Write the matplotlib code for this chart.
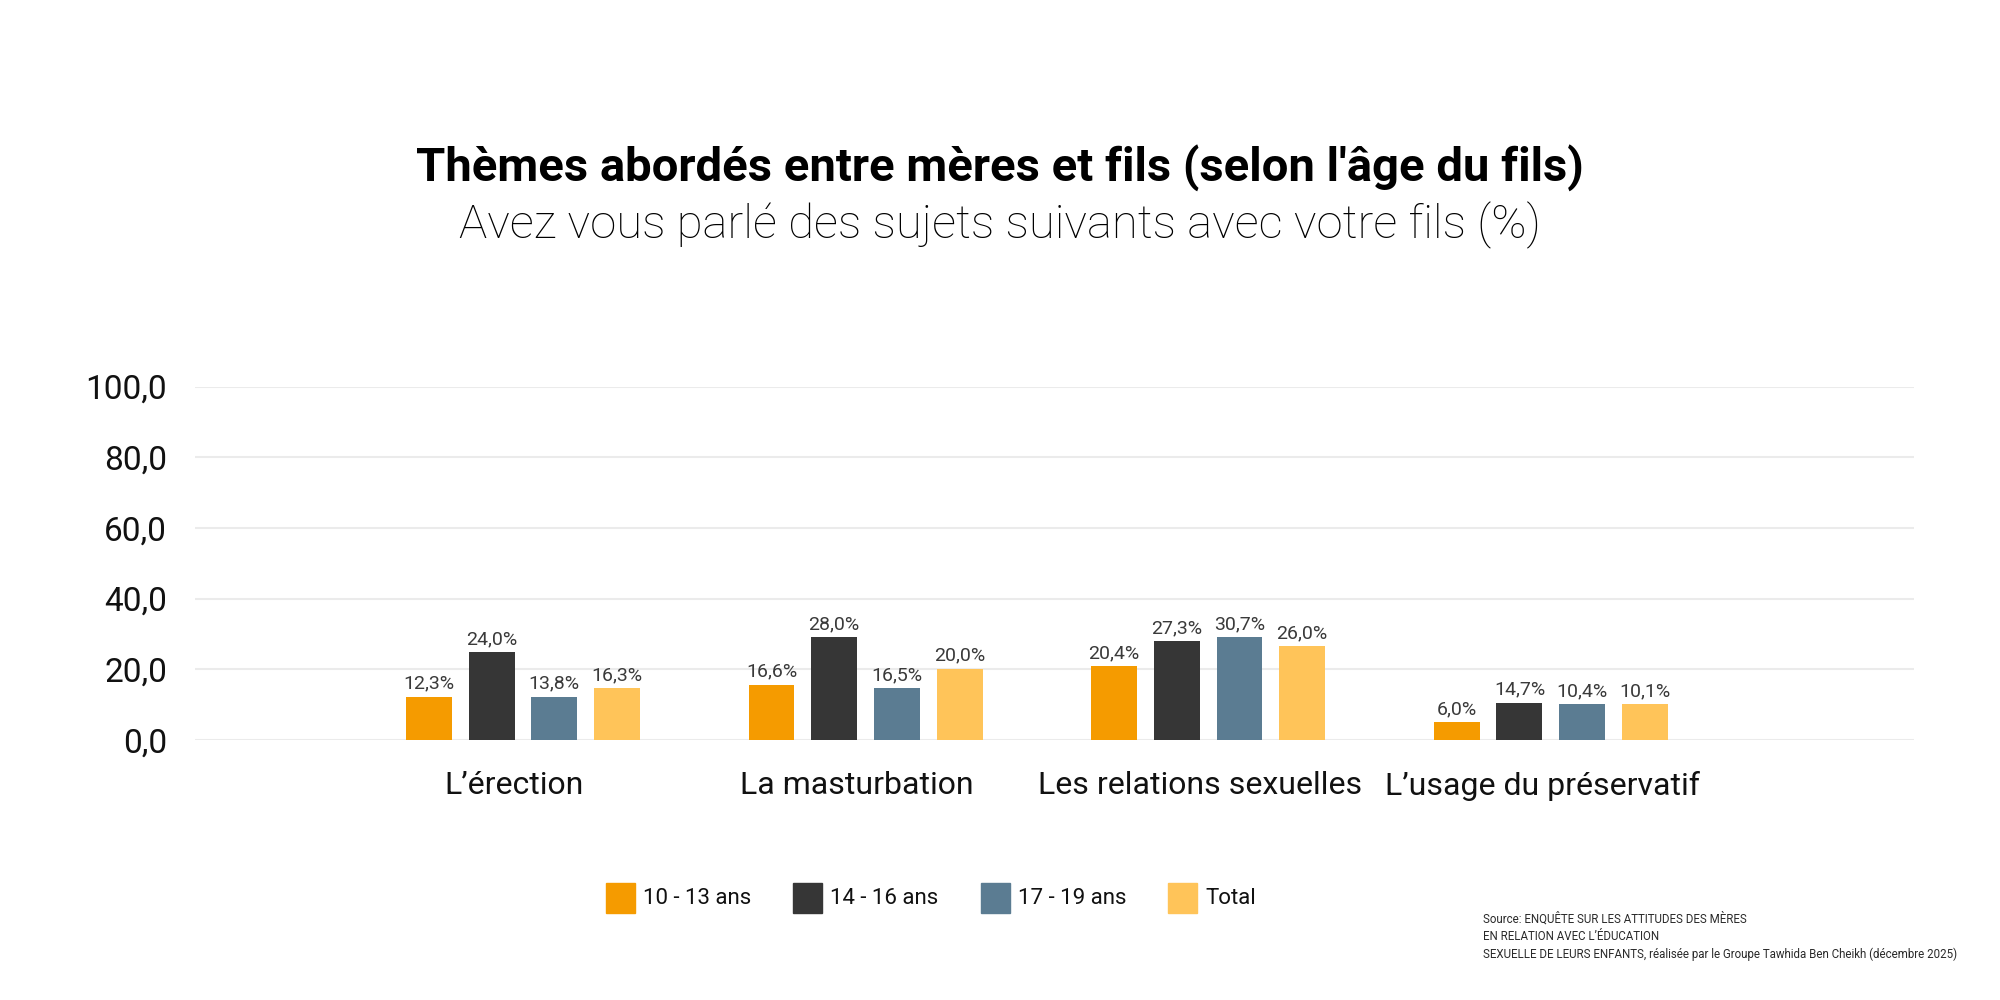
import matplotlib
matplotlib.use("Agg")
import matplotlib.pyplot as plt
import numpy as np
from matplotlib.patches import Rectangle

plt.rcParams['font.family'] = ['Roboto', 'DejaVu Sans']

categories = ["L’érection", "La masturbation", "Les relations sexuelles", "L’usage du préservatif"]
series = ["10 - 13 ans", "14 - 16 ans", "17 - 19 ans", "Total"]
# bar heights as drawn in the reference
heights = {
    "10 - 13 ans": [12.2, 15.7, 20.9, 5.0],
    "14 - 16 ans": [24.8, 29.1, 27.9, 10.5],
    "17 - 19 ans": [12.2, 14.7, 29.1, 10.1],
    "Total":       [14.6, 20.2, 26.5, 10.1],
}
# value labels as printed in the reference
labels = {
    "10 - 13 ans": ["12,3%", "16,6%", "20,4%", "6,0%"],
    "14 - 16 ans": ["24,0%", "28,0%", "27,3%", "14,7%"],
    "17 - 19 ans": ["13,8%", "16,5%", "30,7%", "10,4%"],
    "Total":       ["16,3%", "20,0%", "26,0%", "10,1%"],
}
yticks = [0, 20, 40, 60, 80, 100]
ytick_labels = ["0,0", "20,0", "40,0", "60,0", "80,0", "100,0"]
colors = ["#F59B00", "#363636", "#5B7C92", "#FFC459"]

title = "Thèmes abordés entre mères et fils (selon l'âge du fils)"
subtitle = "Avez vous parlé des sujets suivants avec votre fils (%)"
source = ("Source: ENQUÊTE SUR LES ATTITUDES DES MÈRES\n"
          "EN RELATION AVEC L’ÉDUCATION\n"
          "SEXUELLE DE LEURS ENFANTS, réalisée par le Groupe Tawhida Ben Cheikh (décembre 2025)")

fig = plt.figure(figsize=(20, 10), dpi=100)
ax = fig.add_axes([0.0975, 0.26, 0.957 - 0.0975, 0.6135 - 0.26])

x = np.arange(len(categories))
width = 0.134
step = 0.183
for i, s in enumerate(series):
    off = (i - 1.5) * step
    bars = ax.bar(x + off, heights[s], width=width, color=colors[i], zorder=3)
    for b, lab in zip(bars, labels[s]):
        ax.annotate(lab, (b.get_x() + b.get_width() / 2, b.get_height()),
                    xytext=(0, 3), textcoords="offset points",
                    ha="center", va="bottom", fontsize=14, color="#3a3a3a")

ax.set_xlim(-0.957, 4.06)
ax.set_ylim(0, 100)
ax.set_yticks(yticks)
ax.set_yticklabels(ytick_labels, fontsize=24, color="#111111")
ax.set_xticks(x - 0.025)
ax.set_xticklabels(categories, fontsize=23, color="#111111")
ax.tick_params(axis="y", length=0, pad=20)
ax.tick_params(axis="x", length=0, pad=22)
ax.grid(axis="y", color="#ebebeb", linewidth=1.5, zorder=0)
for sp in ax.spines.values():
    sp.set_visible(False)

fig.text(0.5, 0.819, title, ha="center", va="baseline", fontsize=34, fontweight="bold", color="#000000")
fig.text(0.5, 0.762, subtitle, ha="center", va="baseline", fontsize=34, fontweight="light", color="#000000")

# legend
leg_x = [606, 793, 981, 1168]
for i, s in enumerate(series):
    fig.patches.append(Rectangle((leg_x[i] / 2000, 1 - 913 / 1000), 29 / 2000, 30 / 1000,
                                 transform=fig.transFigure, color=colors[i]))
    fig.text((leg_x[i] + 37) / 2000, 1 - 898 / 1000, s, ha="left", va="center",
             fontsize=16, color="#111111")

fig.text(1483 / 2000, 1 - 912 / 1000, source, ha="left", va="top", fontsize=8.3,
         color="#2a2a2a", linespacing=1.45)

fig.savefig("out.png", dpi=100, facecolor="white")
